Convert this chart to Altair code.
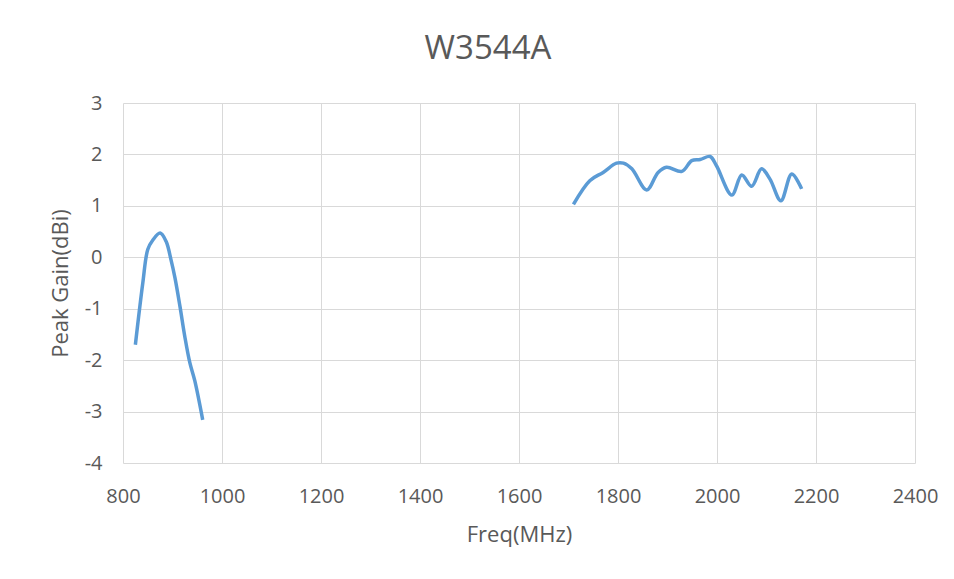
import altair as alt
import pandas as pd

# Low band (MHz, dBi)
low_freq = [825, 840, 850, 860, 875, 887, 897, 905, 915, 925, 935, 945, 961]
low_gain = [-1.70, -0.50, 0.15, 0.33, 0.47, 0.31, -0.05, -0.40, -0.95, -1.55, -2.05, -2.40, -3.16]

# High band (MHz, dBi)
high_freq = [1710, 1743, 1770, 1797, 1811, 1828, 1858, 1881, 1898, 1929, 1949, 1966, 1986,
             1999, 2030, 2050, 2070, 2090, 2107, 2129, 2151, 2171]
high_gain = [1.03, 1.49, 1.65, 1.83, 1.83, 1.72, 1.31, 1.65, 1.75, 1.67, 1.88, 1.90, 1.96,
             1.78, 1.21, 1.60, 1.38, 1.72, 1.52, 1.10, 1.62, 1.33]

x_ticks = [800, 1000, 1200, 1400, 1600, 1800, 2000, 2200, 2400]
y_ticks = [-4, -3, -2, -1, 0, 1, 2, 3]

df = pd.concat([
    pd.DataFrame({"freq": low_freq, "gain": low_gain, "band": "low"}),
    pd.DataFrame({"freq": high_freq, "gain": high_gain, "band": "high"}),
])

FONT = "Open Sans"
TXT = "#595959"

chart = alt.Chart(df).mark_line(
    color="#5B9BD5", strokeWidth=3.5, interpolate="catmull-rom"
).encode(
    x=alt.X("freq:Q", scale=alt.Scale(domain=[800, 2400], nice=False, zero=False),
            axis=alt.Axis(title="Freq(MHz)", values=x_ticks, grid=True, domain=False,
                          ticks=False, labelPadding=23, labelFontSize=20, labelFont=FONT,
                          labelColor=TXT, titleFont=FONT, titleFontSize=22,
                          titleFontWeight="normal", titleColor=TXT, titleBaseline="alphabetic",
                          titleY=78, gridColor="#d9d9d9", labelFlush=False,
                          labelExpr="'' + datum.value")),
    y=alt.Y("gain:Q", scale=alt.Scale(domain=[-4, 3], nice=False, zero=False),
            axis=alt.Axis(title="Peak Gain(dBi)", values=y_ticks, grid=True, domain=False,
                          ticks=False, labelPadding=21, labelFontSize=20, labelFont=FONT,
                          labelColor=TXT, titleFont=FONT, titleFontSize=22,
                          titleFontWeight="normal", titleColor=TXT, titleBaseline="middle",
                          titleX=-63, titleY=180, titleAngle=-90, gridColor="#d9d9d9",
                          labelFlush=False, labelExpr="'' + datum.value")),
    detail="band:N",
).properties(
    width=792,
    height=360,
    title=alt.TitleParams("W3544A", font=FONT, fontSize=33, fontWeight="normal",
                          color=TXT, anchor="middle", frame="group", dx=-31,
                          offset=1, baseline="alphabetic"),
    autosize=alt.AutoSizeParams(type="none"),
    padding={"left": 115, "top": 95, "right": 30, "bottom": 90},
).configure_view(stroke=None)

chart.save("out.html", embed_options={"renderer": "svg", "actions": False})
